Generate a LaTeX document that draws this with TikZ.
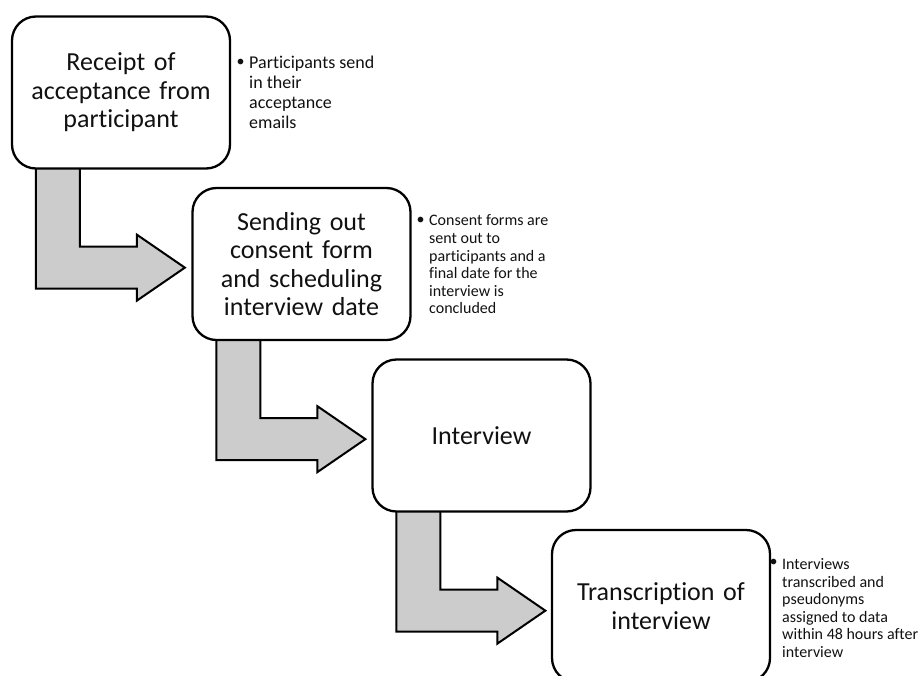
\documentclass[tikz,border=0pt]{standalone}
\usepackage{fontspec}
\setmainfont{Carlito}[Ligatures=NoCommon]
\usetikzlibrary{backgrounds}

\definecolor{ink}{HTML}{111111}
\definecolor{arrowgray}{HTML}{CCCCCC}

\tikzset{
  stepbox/.style={draw=black, fill=white, line width=2.3pt, rounded corners=24pt,
    minimum width=218pt, minimum height=152pt, inner sep=0pt,
    align=center, text width=210pt, text=ink,
    font=\fontsize{26}{28.6}\selectfont},
  note/.style={anchor=west, align=left, inner sep=0pt, text=ink,
    font=\fontsize{16}{17.6}\selectfont},
  bignote/.style={note, font=\fontsize{18}{19.8}\selectfont},
  dot/.style={inner sep=0pt, text=ink, font=\fontsize{16}{17.6}\selectfont},
  bentarrow/.style={draw=black, fill=arrowgray, line width=2pt, line join=miter},
}

\begin{document}
\begin{tikzpicture}[x=1pt, y=-1pt]
  \useasboundingbox (0,0) rectangle (923,675);
  \clip (0,0) rectangle (923,675);

  % process steps
  \node[stepbox] (b1) at (121,92.5)  {Receipt of\\acceptance from\\participant};
  \node[stepbox] (b2) at (301.5,264) {Sending out\\consent form\\and scheduling\\interview date};
  \node[stepbox] (b3) at (481.5,435.5) {Interview};
  \node[stepbox] (b4) at (661,606)   {Transcription of\\interview};

  % side notes
  \node[dot] (d1) at (240.5,62.5) {\textbullet};
  \node[bignote] (n1) at (249,92.5) {Participants send\\in their\\acceptance\\emails};

  \node[dot] (d2) at (420.5,221) {\textbullet};
  \node[note] (n2) at (429,264.5) {Consent forms are\\sent out to\\participants and a\\final date for the\\interview is\\concluded};

  \node[dot] (d4) at (773.5,563) {\textbullet};
  \node[note] (n4) at (782,608) {Interviews\\transcribed and\\pseudonyms\\assigned to data\\within 48 hours after\\interview};

  % bent block arrows between consecutive steps
  \begin{scope}[on background layer]
    \foreach \b in {b1,b2,b3} {
      \begin{scope}[shift={(\b.south west)}]
        \draw[bentarrow] (25,-8) -- (69,-8) -- (69,77) -- (126,77) -- (126,65)
          -- (174,98) -- (126,131) -- (126,119) -- (25,119) -- cycle;
      \end{scope}
    }
  \end{scope}
\end{tikzpicture}
\end{document}
